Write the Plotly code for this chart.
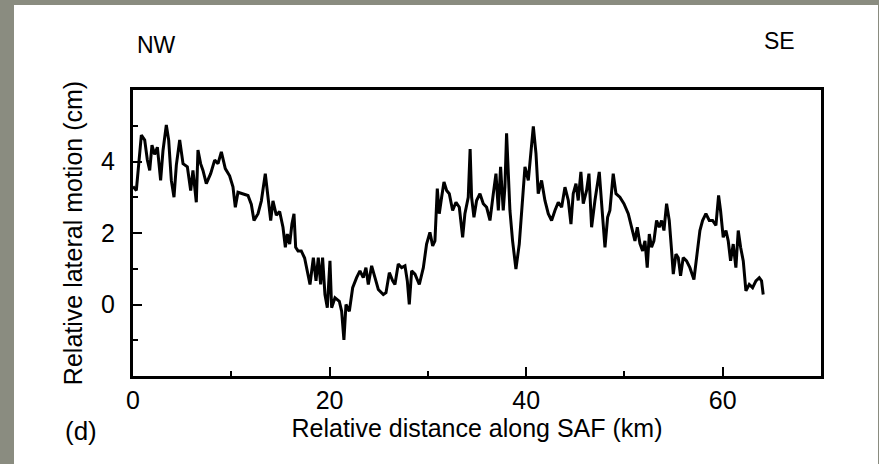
import plotly.graph_objects as go

dist_km = [
    0.00, 0.34, 0.85, 1.19, 1.46, 1.70, 1.93, 2.20, 2.48, 2.81, 3.05, 3.39, 3.63, 3.90,
    4.17, 4.41, 4.75, 5.09, 5.53, 5.87, 6.10, 6.44, 6.61, 6.88, 7.12, 7.46, 7.90, 8.31,
    8.65, 8.99, 9.39, 9.83, 10.17, 10.41, 10.68, 11.19, 11.70, 12.04, 12.31, 12.72, 13.06,
    13.46, 13.73, 14.01, 14.24, 14.58, 14.92, 15.26, 15.50, 15.70, 15.94, 16.17, 16.38,
    16.55, 16.79, 17.12, 17.46, 17.67,
    18.01, 18.35, 18.62, 18.85, 19.09, 19.29, 19.53, 19.77, 20.04, 20.21, 20.55, 20.99,
    21.23, 21.46, 21.67, 22.01, 22.35, 22.75, 23.09, 23.43, 23.70, 23.94, 24.28, 24.62,
    24.96, 25.47, 25.74, 26.08, 26.42, 26.65, 26.99, 27.33, 27.67, 27.91, 28.11, 28.35,
    28.69, 29.13, 29.54, 29.87, 30.21, 30.49, 30.72, 30.96, 31.16, 31.40, 31.64, 31.91,
    32.18, 32.52, 32.86, 33.20, 33.54, 33.77, 34.11,
    34.30, 34.45, 34.69, 34.96, 35.30, 35.64, 35.98, 36.32, 36.66, 36.93, 37.17, 37.40,
    37.67, 37.84, 38.01, 38.18, 38.35, 38.62, 38.96, 39.30, 39.64, 39.88, 40.22, 40.45,
    40.73, 41.00, 41.23, 41.57, 41.91, 42.25, 42.59, 42.93, 43.27, 43.61, 43.95, 44.29,
    44.56, 44.79, 45.07, 45.30, 45.57, 45.81, 46.15, 46.39, 46.66, 47.00, 47.44, 47.68,
    48.02, 48.29, 48.52, 48.86, 49.14, 49.54, 49.95, 50.39, 50.83, 51.07, 51.31,
    51.58, 51.85, 52.09, 52.32, 52.53, 52.76, 53.00, 53.27, 53.54, 53.78, 54.02, 54.29,
    54.56, 54.80, 54.97, 55.24, 55.48, 55.71, 55.98, 56.32, 56.66, 57.07, 57.41, 57.68,
    57.95, 58.29, 58.63, 58.97, 59.31, 59.58, 59.78, 60.05, 60.33, 60.56, 60.80, 61.07,
    61.34, 61.58, 61.82, 62.09, 62.36, 62.70, 63.04, 63.38, 63.72, 63.95, 64.12,
]
motion_cm = [
    3.30, 3.19, 4.74, 4.60, 4.04, 3.75, 4.46, 4.20, 4.40, 3.47, 4.30, 5.02, 4.60, 3.47,
    3.00, 3.90, 4.60, 3.94, 3.85, 3.19, 3.75, 2.86, 4.32, 3.94, 3.75, 3.38, 3.66, 4.04,
    3.94, 4.27, 3.80, 3.60, 3.29, 2.72, 3.14, 3.10, 3.05, 2.80, 2.35, 2.54, 2.90,
    3.66, 3.00, 2.35, 2.90, 2.50, 2.60, 2.16, 1.60, 1.97, 1.69, 2.25, 2.54,
    1.60, 1.50, 1.50, 1.30, 1.00,
    0.56, 1.31, 0.66, 1.31, 0.56, 1.31, 0.28, -0.09, 1.22, -0.09, 0.19, 0.09,
    -0.19, -0.99, 0.00, -0.19, 0.47, 0.75, 0.94, 0.75, 1.03, 0.56, 1.08, 0.75,
    0.42, 0.28, 0.33, 0.89, 0.66, 0.56, 1.13, 1.03, 1.08, 0.66, 0.00, 0.94,
    0.85, 0.56, 1.03, 1.69, 2.02, 1.64, 1.78, 3.24, 2.54, 3.00, 3.43, 3.19,
    3.10, 2.63, 2.86, 2.72, 1.88, 2.54, 3.00,
    4.35, 3.00, 2.44, 2.91, 3.10, 2.82, 2.72, 2.35, 3.10, 3.66, 2.63, 3.85,
    2.63, 3.28, 4.79, 3.47, 2.63, 1.78, 0.99, 1.69, 2.91, 3.85, 3.47, 4.23,
    4.98, 4.23, 3.10, 3.47, 2.91, 2.54, 2.35, 2.63, 2.86, 2.72, 3.28, 2.91,
    2.25, 3.10, 3.38, 2.91, 3.71, 2.82, 3.19, 3.66, 2.16, 2.91, 3.71, 2.82,
    1.60, 2.44, 2.63, 3.66, 3.10, 3.00, 2.82, 2.54, 2.07, 1.78, 2.16,
    1.70, 1.50, 1.78, 1.03, 1.97, 1.60, 1.78, 2.35, 2.16, 2.35, 2.07, 2.82,
    2.35, 1.50, 0.85, 1.41, 1.31, 0.80, 1.31, 1.22, 1.03, 0.70, 1.41, 2.07,
    2.35, 2.54, 2.35, 2.35, 2.21, 3.05, 2.63, 1.88, 2.07, 1.78, 1.22, 1.69,
    1.03, 2.07, 1.60, 1.22, 0.38, 0.56, 0.47, 0.66, 0.75, 0.66, 0.28,
]

x_ticks = [0, 20, 40, 60]
x_minor = [10, 30, 50]
y_ticks = [0, 2, 4]
y_minor = [-1, 1, 3, 5]

FONT = "Liberation Sans, Arial, Helvetica, sans-serif"
W, H = 879, 464
L, R, T, B = 133, 58, 90, 88
pw, ph = W - L - R, H - T - B

def px(xp):
    return (xp - L) / pw

def py(yp):
    return (H - B - yp) / ph

fig = go.Figure()
fig.add_trace(go.Scatter(
    x=dist_km, y=motion_cm, mode="lines",
    line=dict(color="black", width=3),
    showlegend=False, hoverinfo="skip",
))

fig.update_layout(
    width=W, height=H,
    margin=dict(l=L, r=R, t=T, b=B, pad=0),
    paper_bgcolor="#8a8c80",
    plot_bgcolor="white",
    font=dict(family=FONT, size=25, color="black"),
    shapes=[dict(type="rect", xref="paper", yref="paper",
                 x0=px(14), x1=px(878), y0=py(H), y1=py(5),
                 fillcolor="white", line=dict(width=0), layer="below")],
    annotations=[
        dict(text="NW", x=px(156), y=py(45), xref="paper", yref="paper",
             showarrow=False, xanchor="center", yanchor="middle", font=dict(size=23)),
        dict(text="SE", x=px(779), y=py(41), xref="paper", yref="paper",
             showarrow=False, xanchor="center", yanchor="middle", font=dict(size=23)),
        dict(text="(d)", x=px(81), y=py(431), xref="paper", yref="paper",
             showarrow=False, xanchor="center", yanchor="middle", font=dict(size=26)),
    ],
)

fig.update_xaxes(
    range=[0, 70], showgrid=False, zeroline=False,
    showline=True, linecolor="black", linewidth=3, mirror=True,
    tickmode="array", tickvals=x_ticks, ticks="inside", ticklen=9, tickwidth=2,
    tickcolor="black", ticklabelstandoff=0,
    minor=dict(tickmode="array", tickvals=x_minor, ticks="inside", ticklen=5,
               tickwidth=2, tickcolor="black", showgrid=False),
    title=dict(text="Relative distance along SAF (km)", standoff=2,
               font=dict(size=25)),
)
fig.update_yaxes(
    range=[-2, 6], showgrid=False, zeroline=False,
    showline=True, linecolor="black", linewidth=3, mirror=True,
    tickmode="array", tickvals=y_ticks, ticks="inside", ticklen=9, tickwidth=2,
    tickcolor="black", ticklabelstandoff=10,
    minor=dict(tickmode="array", tickvals=y_minor, ticks="inside", ticklen=5,
               tickwidth=2, tickcolor="black", showgrid=False),
    title=dict(text="Relative lateral motion (cm)", standoff=12,
               font=dict(size=25)),
)

fig.write_html("out.html")
